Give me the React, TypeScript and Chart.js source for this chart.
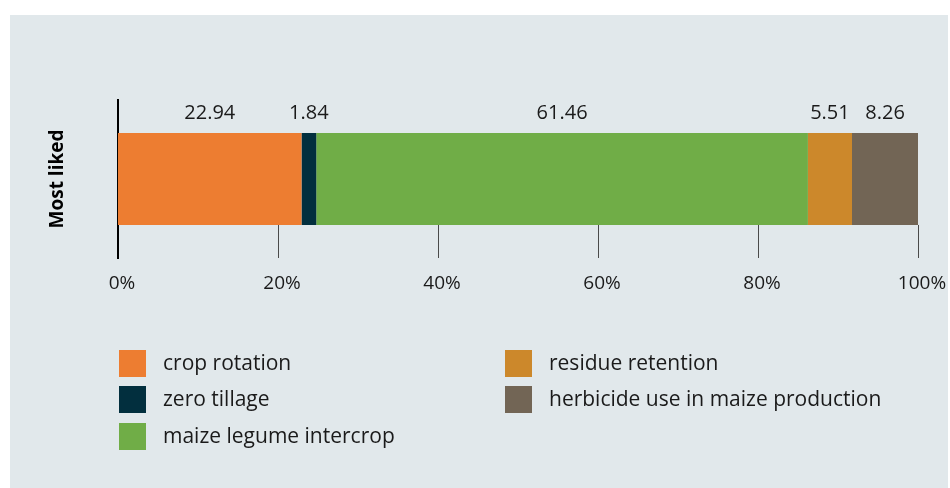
import React, { useEffect, useRef } from "react";
import { Chart, registerables } from "chart.js";

Chart.register(...registerables);

const categories = ["Most liked"];
const seriesNames = [
  "crop rotation",
  "zero tillage",
  "maize legume intercrop",
  "residue retention",
  "herbicide use in maize production",
];
const cropRotation = [22.94];
const zeroTillage = [1.84];
const maizeLegumeIntercrop = [61.46];
const residueRetention = [5.51];
const herbicideUse = [8.26];
const seriesValues = [cropRotation, zeroTillage, maizeLegumeIntercrop, residueRetention, herbicideUse];
const seriesColors = ["#ED7D31", "#022F3E", "#70AD47", "#CC882B", "#726555"];
const xTickStep = 20;
const xMin = 0;
const xMax = 100;

const FONT = "'Open Sans', 'Noto Sans', sans-serif";

const tickLinesPlugin = {
  id: "tickLines",
  beforeDatasetsDraw(chart: any) {
    const xs = chart.scales.x;
    const el = chart.getDatasetMeta(0).data[0];
    if (!el) return;
    const p = el.getProps(["y", "height"], true);
    const barBottom = p.y + p.height / 2;
    const ctx = chart.ctx;
    ctx.save();
    ctx.strokeStyle = "#4a4a4a";
    ctx.lineWidth = 1;
    xs.ticks.forEach((t: any) => {
      if (t.value === xMin) return;
      const px = Math.round(xs.getPixelForValue(t.value)) + 0.5;
      ctx.beginPath();
      ctx.moveTo(px, barBottom);
      ctx.lineTo(px, chart.chartArea.bottom);
      ctx.stroke();
    });
    ctx.restore();
  },
};

const valueLabelsPlugin = {
  id: "valueLabels",
  afterDatasetsDraw(chart: any) {
    const ctx = chart.ctx;
    ctx.save();
    ctx.font = `20px ${FONT}`;
    ctx.fillStyle = "#1a1a1a";
    ctx.textAlign = "center";
    ctx.textBaseline = "alphabetic";
    chart.data.datasets.forEach((ds: any, i: number) => {
      const meta = chart.getDatasetMeta(i);
      meta.data.forEach((el: any, j: number) => {
        const p = el.getProps(["x", "y", "base", "height"], true);
        const cx = (p.base + p.x) / 2;
        const top = p.y - p.height / 2;
        ctx.fillText(ds.data[j].toFixed(2), cx, top - 14);
      });
    });
    ctx.restore();
  },
};

const legendPlugin = {
  id: "colLegend",
  afterDraw(chart: any) {
    const ctx = chart.ctx;
    const area = chart.chartArea;
    const perCol = 3;
    const colWidth = 386;
    const rowStep = 36.4;
    const box = 27;
    const startX = area.left + 1;
    const startY = area.bottom + 92;
    ctx.save();
    ctx.font = `21px ${FONT}`;
    ctx.textAlign = "left";
    ctx.textBaseline = "middle";
    chart.data.datasets.forEach((ds: any, i: number) => {
      const col = Math.floor(i / perCol);
      const row = i % perCol;
      const x = startX + col * colWidth;
      const y = Math.round(startY + row * rowStep);
      ctx.fillStyle = ds.backgroundColor;
      ctx.fillRect(x, y, box, box);
      ctx.fillStyle = "#1a1a1a";
      ctx.fillText(ds.label, x + box + 17, y + box / 2 + 1);
    });
    ctx.restore();
  },
};

export default function App() {
  const ref = useRef<HTMLCanvasElement | null>(null);

  useEffect(() => {
    if (!ref.current) return;
    Chart.defaults.font.family = FONT;
    const chart = new Chart(ref.current, {
      type: "bar",
      data: {
        labels: categories,
        datasets: seriesNames.map((name, i) => ({
          label: name,
          data: seriesValues[i],
          backgroundColor: seriesColors[i],
          borderWidth: 0,
          categoryPercentage: 1,
          barPercentage: 0.582,
        })),
      },
      options: {
        indexAxis: "y",
        animation: false,
        responsive: false,
        layout: { padding: { top: 85, right: 30, bottom: 170, left: 0 } },
        plugins: {
          legend: { display: false },
          tooltip: { enabled: false },
        },
        scales: {
          x: {
            stacked: true,
            min: xMin,
            max: xMax,
            position: "bottom",
            afterFit: (s: any) => {
              s.height = 60;
              s.paddingLeft = 0;
              s.paddingRight = 0;
            },
            grid: { display: false, drawTicks: false },
            border: { display: false },
            ticks: {
              stepSize: xTickStep,
              padding: 14,
              labelOffset: 4,
              color: "#1a1a1a",
              font: { size: 19 },
              callback: (v: any) => `${v}%`,
            },
          },
          y: {
            stacked: true,
            afterFit: (s: any) => {
              s.width = 108;
            },
            grid: { display: false, drawTicks: false },
            border: { display: true, color: "#000000", width: 2 },
            ticks: { display: false },
            title: {
              display: true,
              text: categories[0],
              color: "#000000",
              font: { size: 19, weight: "bold" },
              padding: { top: 36, bottom: 0 },
            },
          },
        },
      },
      plugins: [tickLinesPlugin, valueLabelsPlugin, legendPlugin],
    });
    return () => chart.destroy();
  }, []);

  return (
    <div
      style={{
        position: "absolute",
        left: 10,
        top: 15,
        width: 938,
        height: 473,
        background: "#E1E8EB",
      }}
    >
      <canvas ref={ref} width={938} height={473} style={{ width: 938, height: 473, display: "block" }} />
    </div>
  );
}
